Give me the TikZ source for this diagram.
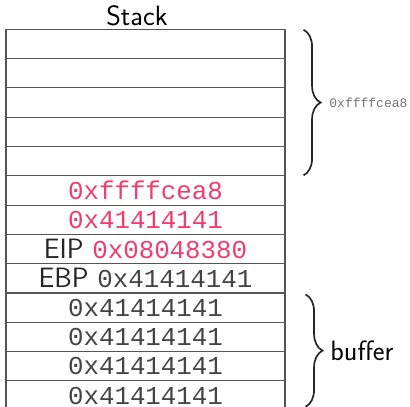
\documentclass[tikz,border=0pt]{standalone}
\usepackage{fontspec}
\setmonofont{Liberation Mono}
\usetikzlibrary{positioning, decorations.pathreplacing}
\definecolor{stackPink}{HTML}{F03C6E}
\definecolor{stackGray}{HTML}{555555}
\definecolor{stackText}{HTML}{444444}
\newcommand{\addrfont}{\fontsize{25.8}{30}\selectfont\ttfamily}
\newcommand{\hot}[1]{{\addrfont\color{stackPink}#1}}
\newcommand{\cold}[1]{{\addrfont\color{stackText}#1}}

\begin{document}
\begin{tikzpicture}[
    x=1pt, y=1pt,
    % --- styles ---
    cell/.style={draw=stackGray, line width=1.1pt, minimum width=279pt,
                 minimum height=29.3pt, inner sep=0pt,
                 font=\fontsize{28}{32}\selectfont\sffamily, text=black!85},
    title/.style={font=\fontsize{28}{32}\selectfont\sffamily, inner sep=0pt},
    brace/.style={decorate, decoration={brace, amplitude=17pt},
                  line width=1.7pt, draw=black!85},
    sidelabel/.style={font=\fontsize{28}{32}\selectfont\sffamily, inner sep=0pt},
    smalladdr/.style={font=\fontsize{13}{15}\selectfont\ttfamily, text=black!55, inner sep=0pt}
]
\clip (0,0) rectangle (410,-407);

% ====== title ======
\node[title, anchor=base] (stacktitle) at (137,-25) {Stack};

% ====== stack cells ======
\foreach \i/\content in {1/{},2/{},3/{},4/{},5/{},
    6/{\hot{0xffffcea8}},
    7/{\hot{0x41414141}},
    8/{EIP \hot{0x08048380}},
    9/{EBP \cold{0x41414141}},
    10/{\cold{0x41414141}},
    11/{\cold{0x41414141}},
    12/{\cold{0x41414141}},
    13/{\cold{0x41414141}}}
  \node[cell] (row\i) at (145.5, {-14.65-29.3*\i}) {\content};

% ====== braces ======
\draw[brace] ([xshift=18pt, yshift=-1pt]row1.north east) -- ([xshift=18pt, yshift=1pt]row5.south east)
    node[smalladdr, midway, right=25pt] (retaddr) {0xffffcea8};
\draw[brace] ([xshift=20pt, yshift=-2pt]row10.north east) -- ([xshift=20pt, yshift=4pt]row13.south east)
    node[sidelabel, midway, right=24pt] (buflabel) {buffer};

\end{tikzpicture}
\end{document}
